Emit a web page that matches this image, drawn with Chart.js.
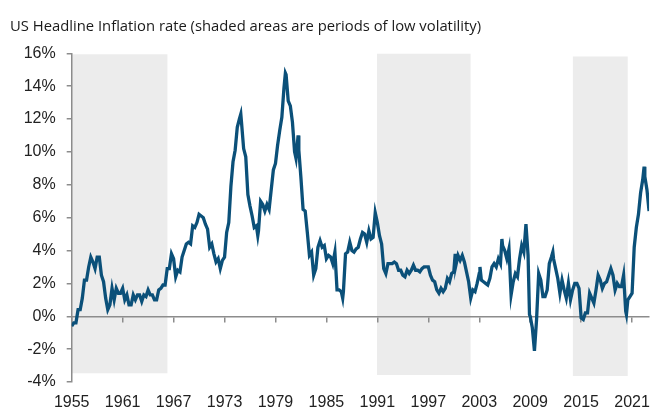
<!DOCTYPE html>
<html>
<head>
<meta charset="utf-8">
<script src="https://cdn.jsdelivr.net/npm/chart.js@4.4.1/dist/chart.umd.min.js"></script>
<style>
  body { margin: 0; background: #fff; }
</style>
</head>
<body>
<canvas id="inflationChart" width="661" height="410"></canvas>
<script>
// US headline CPI inflation, y/y %
const months = [
    '1955-01','1955-04','1955-07','1955-10', '1956-01','1956-04','1956-07','1956-10',
    '1957-01','1957-04','1957-07','1957-10', '1958-01','1958-04','1958-07','1958-10',
    '1959-01','1959-04','1959-07','1959-10', '1960-01','1960-04','1960-07','1960-10',
    '1961-01','1961-04','1961-07','1961-10', '1962-01','1962-04','1962-07','1962-10',
    '1963-01','1963-04','1963-07','1963-10', '1964-01','1964-04','1964-07','1964-10',
    '1965-01','1965-04','1965-07','1965-10', '1966-01','1966-04','1966-07','1966-10',
    '1967-01','1967-04','1967-07','1967-10', '1968-01','1968-04','1968-07','1968-10',
    '1969-01','1969-04','1969-07','1969-10', '1970-01','1970-04','1970-07','1970-10',
    '1971-01','1971-04','1971-07','1971-10', '1972-01','1972-04','1972-07','1972-10',
    '1973-01','1973-04','1973-07','1973-10', '1974-01','1974-04','1974-07','1974-10','1974-12',
    '1975-01','1975-04','1975-07','1975-10', '1976-01','1976-04','1976-07','1976-10','1976-12',
    '1977-01','1977-04','1977-07','1977-10', '1978-01','1978-04','1978-07','1978-10',
    '1979-01','1979-04','1979-07','1979-10', '1980-01','1980-03','1980-04','1980-07','1980-10',
    '1981-01','1981-04','1981-06','1981-09','1981-10', '1982-01','1982-04','1982-07','1982-10',
    '1983-01','1983-04','1983-07','1983-10', '1984-01','1984-04','1984-07','1984-10',
    '1985-01','1985-04','1985-07','1985-10', '1986-01','1986-04','1986-07','1986-10','1986-12',
    '1987-01','1987-04','1987-07','1987-10', '1988-01','1988-04','1988-07','1988-10',
    '1989-01','1989-04','1989-07','1989-10', '1990-01','1990-04','1990-07','1990-10',
    '1991-01','1991-04','1991-07','1991-10', '1992-01','1992-04','1992-07','1992-10',
    '1993-01','1993-04','1993-07','1993-10', '1994-01','1994-04','1994-07','1994-10',
    '1995-01','1995-04','1995-07','1995-10', '1996-01','1996-04','1996-07','1996-10',
    '1997-01','1997-04','1997-07','1997-10', '1998-01','1998-04','1998-07','1998-10',
    '1999-01','1999-04','1999-07','1999-10', '2000-01','2000-03','2000-04','2000-07','2000-10',
    '2001-01','2001-04','2001-07','2001-10', '2002-01','2002-04','2002-07','2002-10',
    '2003-01','2003-02','2003-04','2003-07','2003-10', '2004-01','2004-04','2004-07','2004-10',
    '2005-01','2005-04','2005-07','2005-09','2005-10', '2006-01','2006-04','2006-07','2006-10',
    '2007-01','2007-04','2007-07','2007-10', '2008-01','2008-04','2008-07','2008-10','2008-12',
    '2009-01','2009-04','2009-07','2009-10', '2010-01','2010-04','2010-07','2010-10',
    '2011-01','2011-04','2011-07','2011-09','2011-10', '2012-01','2012-04','2012-07','2012-10',
    '2013-01','2013-04','2013-07','2013-10', '2014-01','2014-04','2014-07','2014-10',
    '2015-01','2015-04','2015-07','2015-10', '2016-01','2016-04','2016-07','2016-10',
    '2017-01','2017-04','2017-07','2017-10', '2018-01','2018-04','2018-07','2018-10',
    '2019-01','2019-04','2019-07','2019-10', '2020-01','2020-04','2020-05','2020-07','2020-10',
    '2021-01','2021-04','2021-07','2021-10', '2022-01','2022-04','2022-06','2022-07','2022-10',
    '2023-01'
];

const inflation = [
    -0.6, -0.4, -0.4, 0.4,   0.4, 1.1, 2.2, 2.2,
    3.0, 3.6, 3.3, 2.9,      3.6, 3.6, 2.5, 2.1,
    1.1, 0.4, 0.7, 1.7,      1.0, 1.7, 1.4, 1.4,
    1.7, 1.0, 1.3, 0.7,      0.7, 1.3, 1.0, 1.3,
    1.3, 0.9, 1.3, 1.2,      1.6, 1.3, 1.3, 1.0,
    1.0, 1.6, 1.7, 1.9,      1.9, 2.9, 2.9, 3.8,
    3.5, 2.4, 2.8, 2.7,      3.6, 4.0, 4.4, 4.5,
    4.4, 5.5, 5.4, 5.7,      6.2, 6.1, 6.0, 5.6,
    5.3, 4.2, 4.4, 3.8,      3.3, 3.5, 2.9, 3.4,
    3.6, 5.1, 5.7, 7.9,      9.4, 10.1, 11.5, 12.0, 12.3,
    11.8, 10.2, 9.7, 7.4,    6.7, 6.1, 5.4, 5.5, 4.9,
    5.2, 7.0, 6.8, 6.4,      6.8, 6.5, 7.7, 8.9,
    9.3, 10.4, 11.3, 12.1,   13.9, 14.8, 14.7, 13.1, 12.8,
    11.8, 10.0, 9.6, 11.0, 10.1,  8.4, 6.5, 6.4, 5.1,
    3.7, 3.9, 2.5, 2.9,      4.2, 4.6, 4.2, 4.3,
    3.5, 3.7, 3.6, 3.2,      3.9, 1.6, 1.6, 1.5, 1.1,
    1.5, 3.8, 3.9, 4.5,      4.0, 3.9, 4.1, 4.2,
    4.7, 5.1, 5.0, 4.5,      5.2, 4.7, 4.8, 6.3,
    5.7, 4.9, 4.4, 2.9,      2.6, 3.2, 3.2, 3.2,
    3.3, 3.2, 2.8, 2.8,      2.5, 2.4, 2.8, 2.6,
    2.8, 3.1, 2.8, 2.8,      2.7, 2.9, 3.0, 3.0,
    3.0, 2.5, 2.2, 2.1,      1.6, 1.4, 1.7, 1.5,
    1.7, 2.3, 2.1, 2.6,      2.7, 3.8, 3.1, 3.7, 3.4,
    3.7, 3.3, 2.7, 2.1,      1.1, 1.6, 1.5, 2.0,
    2.6, 3.0, 2.2, 2.1, 2.0, 1.9, 2.3, 3.0, 3.2,
    3.0, 3.5, 3.2, 4.7, 4.3, 4.0, 3.5, 4.1, 1.3,
    2.1, 2.6, 2.4, 3.5,      4.3, 3.9, 5.6, 3.7, 0.1,
    0.0, -0.7, -2.1, -0.2,   2.6, 2.2, 1.2, 1.2,
    1.6, 3.2, 3.6, 3.9, 3.5, 2.9, 2.3, 1.4, 2.2,
    1.6, 1.1, 2.0, 1.0,      1.6, 2.0, 2.0, 1.7,
    -0.1, -0.2, 0.2, 0.2,    1.4, 1.1, 0.8, 1.6,
    2.5, 2.2, 1.7, 2.0,      2.1, 2.5, 2.9, 2.5,
    1.6, 2.0, 1.8, 1.8,      2.5, 0.3, 0.1, 1.0, 1.2,
    1.4, 4.2, 5.4, 6.2,      7.5, 8.3, 9.1, 8.5, 7.7,
    6.4
];

// low volatility periods (shaded)
const shadeStart = [1955, 1990.95, 2014.0];
const shadeEnd = [1966.3, 2002.0, 2020.5];
const shadeTop = [15.94, 15.98, 15.8];
const shadeBottom = [-3.47, -3.58, -3.64];

const yearTicks = [1955, 1961, 1967, 1973, 1979, 1985, 1991, 1997, 2003, 2009, 2015, 2021];
const yMin = -4, yMax = 16, yStep = 2;
const xMin = 1955, xMax = 2023;

function toYear(m) {
    const parts = m.split('-');
    return Number(parts[0]) + (Number(parts[1]) - 1) / 12;
}

const series = months.map((m, i) => ({ x: toYear(m), y: inflation[i] }));

const shadeSets = shadeStart.map((s, i) => ({
    label: 'low volatility',
    data: [{ x: s, y: shadeTop[i] }, { x: shadeEnd[i], y: shadeTop[i] }],
    fill: { value: shadeBottom[i] },
    backgroundColor: '#ececec',
    borderWidth: 0,
    pointRadius: 0
}));

const setYearTicks = axis => { axis.ticks = yearTicks.map(v => ({ value: v })); };

Chart.defaults.font.family = "'Liberation Sans', Arial, sans-serif";
Chart.defaults.font.size = 16;
Chart.defaults.color = '#222';

const ctx = document.getElementById('inflationChart').getContext('2d');
new Chart(ctx, {
    type: 'line',
    data: {
        datasets: [{
            label: 'US headline inflation',
            data: series,
            borderColor: '#0b5079',
            borderWidth: 3.3,
            pointRadius: 0,
            fill: false,
            tension: 0
        }, ...shadeSets]
    },
    options: {
        responsive: false,
        animation: false,
        layout: { padding: { left: 10, right: 4, top: 0, bottom: 0 } },
        plugins: {
            legend: { display: false },
            tooltip: { enabled: false },
            filler: { drawTime: 'beforeDraw' },
            title: {
                display: true,
                text: 'US Headline Inflation rate (shaded areas are periods of low volatility)',
                align: 'start',
                color: '#1a1a1a',
                font: { family: "'Open Sans', sans-serif", size: 14.8, weight: 'normal' },
                padding: { top: 18, bottom: 17.5 }
            }
        },
        scales: {
            x: {
                type: 'linear',
                min: xMin,
                max: xMax,
                position: { y: 0 },
                afterBuildTicks: setYearTicks,
                ticks: { display: false },
                grid: { drawOnChartArea: false, drawTicks: true, tickLength: 5, color: '#8c8c8c', lineWidth: 1.5 },
                border: { color: '#8c8c8c', width: 1.5 }
            },
            x2: {
                type: 'linear',
                min: xMin,
                max: xMax,
                position: 'bottom',
                afterBuildTicks: setYearTicks,
                afterFit: s => { s.height = 28; },
                ticks: { padding: 11, maxRotation: 0, callback: v => String(v) },
                grid: { display: false, drawTicks: false },
                border: { display: false }
            },
            y: {
                min: yMin,
                max: yMax,
                afterFit: s => { s.width = 61.7; },
                ticks: { stepSize: yStep, padding: 11, callback: v => v + '%' },
                grid: { drawOnChartArea: false, drawTicks: true, tickLength: 5, color: '#8c8c8c', lineWidth: 1.5 },
                border: { color: '#8c8c8c', width: 1.5 }
            }
        }
    }
});
</script>
</body>
</html>
